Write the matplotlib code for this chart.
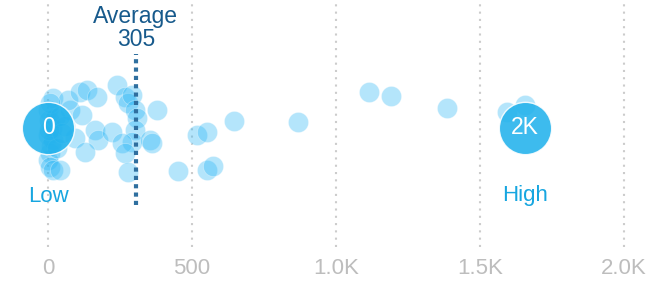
import matplotlib
matplotlib.use("Agg")
import matplotlib.pyplot as plt
import numpy as np

plt.rcParams['font.family'] = ['Liberation Sans', 'DejaVu Sans']

# values, with the vertical swarm offset of each dot
values = [0, 0, 3, 7, 12, 17, 24, 0, 7, 17, 42, 76, 94, 59, 17, 69, 5, 10, 30, 2, 40, 50,
          111, 135, 170, 118, 163, 174, 128, 222, 240, 267, 278, 292, 302, 309, 302, 292,
          257, 267, 278, 378, 354, 361, 451, 517, 552, 552, 573, 646, 868, 1115, 1191,
          1385, 1594, 1656]
offsets = [18, -7, 8, -25, 0, -12, 10, -32, -39, -42, -42, 18, -10, 2, 30, 28, 25, -18, -20, -2, 12, -5,
           36, 38, 31, 13, -2, -12, -24, -4, 43, 31, 25, 33, 18, 10, -2, -14,
           -15, -25, -44, 18, -12, -15, -43, -7, -4, -42, -38, 7, 6, 36, 32,
           20, 16, 23]
average = 305
ticks = [0, 500, 1000, 1500, 2000]
tick_labels = ['0', '500', '1.0K', '1.5K', '2.0K']

low = min(values)
high = max(values)

def short(v):
    if v >= 1000:
        return '%dK' % round(v / 1000)
    return '%d' % v

fig = plt.figure(figsize=(6.48, 2.82), dpi=100)
ax = fig.add_axes([0, 35 / 282, 1, 247 / 282])

ax.scatter(values, offsets, s=210, color='#29b6f6', alpha=0.35, edgecolor='white', linewidth=0.6, zorder=3)

# average marker
ax.plot([average, average], [-77, 74], color='#2f6f9f', linewidth=3, linestyle=(0, (1, 1)), zorder=4)
ax.text(average, 100, 'Average\n%d' % average, ha='center', va='center', fontsize=16.5,
        color='#175a8c', linespacing=0.95, zorder=5)

# low / high bubbles
ax.scatter([low, high], [0, 0], s=1420, color='#22b2ec', alpha=0.88, edgecolor='white', linewidth=1, zorder=6)
ax.text(low, 0, short(low), ha='center', va='center', fontsize=16.5, color='white', zorder=7)
ax.text(high, 0, short(high), ha='center', va='center', fontsize=16.5, color='white', zorder=7)
ax.text(low, -68, 'Low', ha='center', va='center', fontsize=16, color='#17a6e0')
ax.text(high, -68, 'High', ha='center', va='center', fontsize=16, color='#17a6e0')

ax.set_xlim(-167, 2083)
ax.set_ylim(-119, 128)
ax.set_xticks(ticks)
ax.set_xticklabels(tick_labels)
ax.set_yticks([])
ax.tick_params(axis='x', length=0, pad=8, labelsize=16, labelcolor='#bdbdbd')
ax.grid(axis='x', color='#cccccc', linestyle=(0, (1, 2.5)), linewidth=1.5)
ax.set_axisbelow(True)
for sp in ax.spines.values():
    sp.set_visible(False)

fig.savefig('out.png', dpi=100)
